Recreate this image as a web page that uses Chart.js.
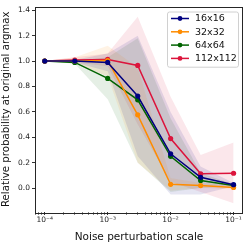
<!DOCTYPE html>
<html>
<head>
<meta charset="utf-8">
<script src="https://cdn.jsdelivr.net/npm/chart.js@4/dist/chart.umd.min.js"></script>
<style>
  html, body { margin: 0; padding: 0; background: #fff; }
  #wrap { width: 249px; height: 244px; }
</style>
</head>
<body>
<div id="wrap"><canvas id="chart" width="249" height="244"></canvas></div>
<script>
// noise scales on the x axis
const noise = [1e-4, 3e-4, 1e-3, 3e-3, 1e-2, 3e-2, 1e-1];

const labels = ["16x16", "32x32", "64x64", "112x112"];
const colors = ["#000080", "#ff8c00", "#006400", "#dc143c"];

// mean curves
const mean16 = [1.0, 1.0, 0.99, 0.725, 0.27, 0.085, 0.027];
const mean32 = [1.0, 1.0, 1.005, 0.577, 0.03, 0.02, 0.005];
const mean64 = [1.0, 0.99, 0.864, 0.695, 0.25, 0.06, 0.02];
const mean112 = [1.0, 1.008, 1.013, 0.966, 0.39, 0.113, 0.117];

// shaded spread (upper / lower)
const hi16 = [1.0, 1.01, 1.06, 1.2, 0.6, 0.17, 0.04];
const lo16 = [1.0, 0.99, 0.92, 0.25, -0.05, -0.05, 0.015];
const hi32 = [1.0, 1.03, 1.12, 0.95, 0.08, 0.04, 0.02];
const lo32 = [1.0, 0.98, 0.88, 0.2, -0.02, 0.0, -0.01];
const hi64 = [1.0, 1.0, 1.03, 1.18, 0.55, 0.12, 0.03];
const lo64 = [1.0, 0.98, 0.7, 0.2, -0.03, 0.0, 0.01];
const hi112 = [1.0, 1.03, 1.06, 1.35, 0.72, 0.26, 0.36];
const lo112 = [1.0, 0.99, 0.96, 0.5, 0.05, -0.03, -0.12];

const yTicks = [0.0, 0.2, 0.4, 0.6, 0.8, 1.0, 1.2, 1.4];

const means = [mean16, mean32, mean64, mean112];
const highs = [hi16, hi32, hi64, hi112];
const lows = [lo16, lo32, lo64, lo112];

const FONT = "'DejaVu Sans', sans-serif";

const toPts = (arr) => arr.map((v, i) => ({ x: noise[i], y: v }));

const hexAlpha = (hex, a) => {
    const n = parseInt(hex.slice(1), 16);
    return `rgba(${(n >> 16) & 255}, ${(n >> 8) & 255}, ${n & 255}, ${a})`;
};

let datasets = [];
for (let i = 0; i < labels.length; i++) {
    datasets.push({
        label: labels[i] + " lo",
        data: toPts(lows[i]),
        borderColor: "transparent",
        borderWidth: 0,
        pointRadius: 0,
        fill: false,
        order: 10,
        band: true
    });
    datasets.push({
        label: labels[i] + " hi",
        data: toPts(highs[i]),
        borderColor: "transparent",
        borderWidth: 0,
        pointRadius: 0,
        backgroundColor: hexAlpha(colors[i], 0.1),
        fill: "-1",
        order: 10,
        band: true
    });
}
for (let i = 0; i < labels.length; i++) {
    datasets.push({
        label: labels[i],
        data: toPts(means[i]),
        borderColor: colors[i],
        backgroundColor: colors[i],
        borderWidth: 1.5,
        pointRadius: 2.6,
        pointBorderWidth: 0,
        fill: false,
        order: i
    });
}

// black frame round the plot like matplotlib spines
const frame = {
    id: "frame",
    afterDraw(chart) {
        const { ctx, chartArea: a } = chart;
        ctx.save();
        ctx.strokeStyle = "#262626";
        ctx.lineWidth = 1;
        ctx.strokeRect(Math.round(a.left) + 0.5, Math.round(a.top) + 0.5,
            Math.round(a.right - a.left) - 1, Math.round(a.bottom - a.top));
        ctx.restore();
    }
};

// legend drawn inside the plot, upper right
const insideLegend = {
    id: "insideLegend",
    afterDraw(chart) {
        const { ctx, chartArea: a } = chart;
        const lines = chart.data.datasets.filter((d) => !d.band);
        const w = 71, rowH = 13.3;
        const h = rowH * lines.length + 2;
        const x0 = a.right - w - 5, y0 = a.top + 5;
        ctx.save();
        ctx.fillStyle = "rgba(255,255,255,0.8)";
        ctx.strokeStyle = "#d0d0d0";
        ctx.lineWidth = 1;
        ctx.beginPath();
        ctx.roundRect(x0 + 0.5, y0 + 0.5, w, h, 2);
        ctx.fill();
        ctx.stroke();
        ctx.font = "9.5px " + FONT;
        ctx.textBaseline = "middle";
        lines.forEach((d, i) => {
            const cy = y0 + 7 + i * rowH;
            ctx.strokeStyle = d.borderColor;
            ctx.lineWidth = 1.5;
            ctx.beginPath();
            ctx.moveTo(x0 + 4, cy);
            ctx.lineTo(x0 + 22, cy);
            ctx.stroke();
            ctx.fillStyle = d.borderColor;
            ctx.beginPath();
            ctx.arc(x0 + 13, cy, 2.4, 0, Math.PI * 2);
            ctx.fill();
            ctx.fillStyle = "#111";
            ctx.fillText(d.label, x0 + 28, cy + 0.5);
        });
        ctx.restore();
    }
};

const SUP = { "-": "\u207b", "0": "\u2070", "1": "\u00b9", "2": "\u00b2", "3": "\u00b3", "4": "\u2074", "5": "\u2075" };
const powLabel = (v) => {
    const e = Math.log10(v);
    if (Math.abs(e - Math.round(e)) > 1e-6) return "";
    return "10" + String(Math.round(e)).split("").map((c) => SUP[c]).join("");
};

new Chart(document.getElementById("chart"), {
    type: "line",
    data: { datasets: datasets },
    plugins: [frame, insideLegend],
    options: {
        responsive: false,
        animation: false,
        events: [],
        layout: { padding: { top: 5, right: 6, left: 0, bottom: 0 } },
        plugins: {
            legend: { display: false },
            tooltip: { enabled: false },
            filler: { propagate: false }
        },
        scales: {
            x: {
                type: "logarithmic",
                min: Math.pow(10, -4.15),
                max: Math.pow(10, -0.85),
                afterBuildTicks: (scale) => {
                    let t = [];
                    for (let e = -5; e <= 0; e++) {
                        for (let m = 1; m < 10; m++) {
                            const v = m * Math.pow(10, e);
                            if (v >= scale.min && v <= scale.max) t.push({ value: v });
                        }
                    }
                    scale.ticks = t;
                },
                afterFit: (scale) => { scale.height = 32; },
                border: { display: false },
                grid: {
                    drawOnChartArea: false,
                    tickLength: 3,
                    tickColor: "#333",
                    tickWidth: (c) => (powLabel(c.tick.value) ? 1 : 0.6)
                },
                ticks: {
                    autoSkip: false,
                    maxRotation: 0,
                    padding: 1,
                    color: "#222",
                    font: { family: FONT, size: 7.5 },
                    callback: (v) => powLabel(v)
                },
                title: {
                    display: true,
                    text: "Noise perturbation scale",
                    color: "#111",
                    padding: { top: 1, bottom: 0 },
                    font: { family: FONT, size: 10.5 }
                }
            },
            y: {
                min: -0.188,
                max: 1.43,
                afterBuildTicks: (scale) => {
                    scale.ticks = yTicks.map((v) => ({ value: v }));
                },
                afterFit: (scale) => { scale.width = 35; },
                border: { display: false },
                grid: {
                    drawOnChartArea: false,
                    tickLength: 3,
                    tickColor: "#333"
                },
                ticks: {
                    padding: 2,
                    color: "#222",
                    font: { family: FONT, size: 7.5 },
                    callback: (v) => v.toFixed(1)
                },
                title: {
                    display: true,
                    text: "Relative probability at original argmax",
                    color: "#111",
                    padding: { top: 0, bottom: 1 },
                    font: { family: FONT, size: 10.2 }
                }
            }
        }
    }
});
</script>
</body>
</html>
